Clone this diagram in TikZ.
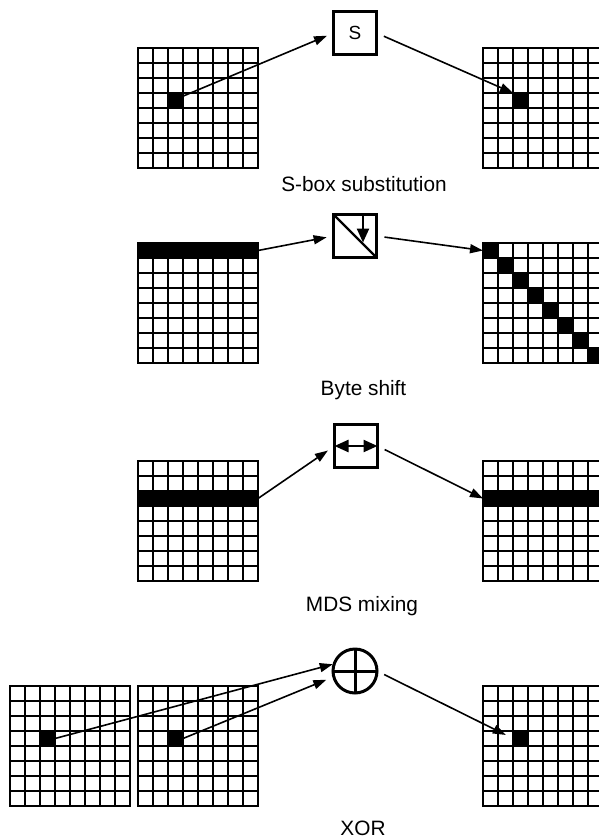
\documentclass[tikz,border=0pt]{standalone}
\usepackage{fontspec}
\setmainfont{Liberation Sans}
\usetikzlibrary{arrows.meta,calc}

\tikzset{
  gridline/.style={line width=2.1pt, line cap=rect},
  blk/.style={fill=black, draw=none, minimum size=15pt, inner sep=0pt, outer sep=0pt, anchor=north west},
  bar/.style={blk, minimum width=120pt, minimum height=15pt},
  opbox/.style={draw, line width=3pt, minimum size=43pt, inner sep=0pt, outer sep=0pt},
  xorop/.style={draw, circle, line width=3pt, minimum size=44pt, inner sep=0pt, outer sep=0pt},
  link/.style={line width=1.6pt, -{Triangle[length=13pt,width=9pt]}},
  inner/.style={line width=2.4pt},
  innertip/.tip={Triangle[length=14pt,width=12pt]},
  caption/.style={anchor=base, font=\fontsize{20.8}{24}\selectfont},
  cellgrid/.pic={
    \foreach \i in {0,...,8} {
      \draw[gridline] (15*\i,0) -- (15*\i,120);
      \draw[gridline] (0,15*\i) -- (120,15*\i);
    }
  }
}

\begin{document}
\begin{tikzpicture}[x=1pt,y=-1pt]
\useasboundingbox (0,0) rectangle (599,840);
\clip (0,0) rectangle (599,840);

% ---- S-box substitution ----
\node[blk] (sin) at (168,93) {};
\node[blk] (sout) at (513,93) {};
\pic at (138,48) {cellgrid};
\pic at (483,48) {cellgrid};
\node[opbox, font=\fontsize{19}{22}\selectfont] (sbox) at (355,33) {S};
\draw[link, shorten >=7pt] (sin.30) -- (sbox.west);
\draw[link, shorten <=8pt] (sbox.east) -- (sout.north west);
\node[caption] (cap1) at (364,191.5) {S-box substitution};

% ---- Byte shift ----
\node[bar] (row1) at (138,243) {};
\foreach \i in {0,...,7} {
  \node[blk] (d\i) at (483+15*\i,243+15*\i) {};
}
\pic at (138,243) {cellgrid};
\pic at (483,243) {cellgrid};
\node[opbox] (shiftbox) at (355,236) {};
\draw[inner] (shiftbox.north west) -- (shiftbox.south east);
\draw[inner, -{innertip}] ([xshift=8pt]shiftbox.north) -- ++(0,28);
\draw[link, shorten >=7pt] (row1.east) -- (shiftbox.west);
\draw[link, shorten <=8pt] (shiftbox.east) -- (d0.west);
\node[caption] (cap2) at (363.5,395) {Byte shift};

% ---- MDS mixing ----
\node[bar] (row2) at (138,491) {};
\node[bar] (row3) at (483,491) {};
\pic at (138,461) {cellgrid};
\pic at (483,461) {cellgrid};
\node[opbox] (mds) at (356,446) {};
\draw[inner, {innertip}-{innertip}] (mds.west) -- (mds.east);
\draw[link, shorten >=8pt] (row2.east) -- (mds.west);
\draw[link, shorten <=8pt] (mds.east) -- (row3.west);
\node[caption] (cap3) at (362,611.5) {MDS mixing};

% ---- XOR ----
\node[blk] (xa) at (40,731) {};
\node[blk] (xb) at (168,731) {};
\node[blk] (xc) at (513,731) {};
\pic at (10,686) {cellgrid};
\pic at (138,686) {cellgrid};
\pic at (483,686) {cellgrid};
\node[xorop] (xor) at (355,671) {};
\draw[line width=3pt] (xor.north) -- (xor.south);
\draw[line width=3pt] (xor.west) -- (xor.east);
\draw[link, shorten >=1.5pt] (xa.east) -- (xor.161);
\draw[link, shorten >=8pt] (xb.east) -- (xor.195);
\draw[link, shorten <=8pt, shorten >=8pt] (xor.east) -- (xc.west);
\node[caption] (cap4) at (363,835) {XOR};
\end{tikzpicture}
\end{document}
